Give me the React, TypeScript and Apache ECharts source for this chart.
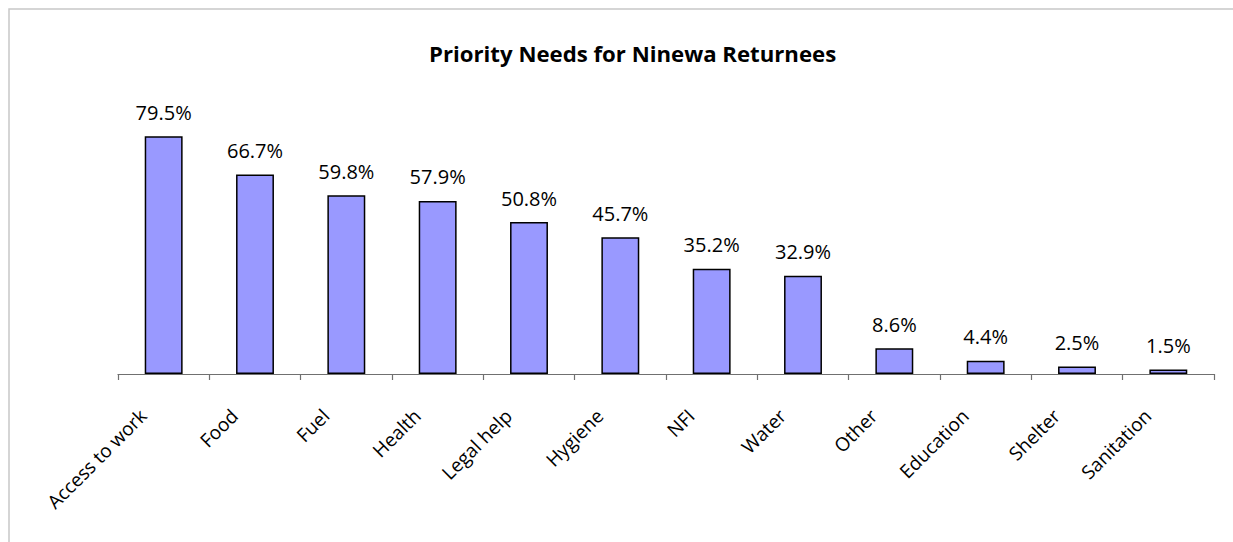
import React, { useEffect, useRef } from "react";
import * as echarts from "echarts";

const categories = ["Access to work", "Food", "Fuel", "Health", "Legal help", "Hygiene", "NFI", "Water", "Other", "Education", "Shelter", "Sanitation"];
const values = [79.5, 66.7, 59.8, 57.9, 50.8, 45.7, 35.2, 32.9, 8.6, 4.4, 2.5, 1.5];
const titleText = "Priority Needs for Ninewa Returnees";

export default function App() {
  const ref = useRef<HTMLDivElement>(null);
  useEffect(() => {
    if (!ref.current) return;
    const chart = echarts.init(ref.current, null, { renderer: "svg" });
    chart.setOption({
      animation: false,
      backgroundColor: "#ffffff",
      title: {
        text: titleText,
        left: 424,
        top: 37,
        textStyle: { fontFamily: "Open Sans", fontWeight: "bold", fontSize: 22.2, color: "#000" },
      },
      graphic: [
        {
          type: "polyline",
          shape: { points: [[9, 560], [9, 9], [1233, 9]] },
          style: { fill: "none", stroke: "#c8c8c8", lineWidth: 1.5 },
          silent: true,
        },
      ],
      grid: { left: 118, right: 19, top: 75, bottom: 168, containLabel: false },
      xAxis: {
        type: "category",
        data: categories,
        axisLine: { show: true, lineStyle: { color: "#707070", width: 1.2 } },
        axisTick: { show: true, length: 6, lineStyle: { color: "#707070", width: 1.2 } },
        axisLabel: {
          rotate: 45,
          interval: 0,
          margin: 18,
          padding: [0, 29, 0, 0],
          fontFamily: "Open Sans",
          fontSize: 19,
          color: "#000",
        },
      },
      yAxis: {
        type: "value",
        min: 0,
        max: 100,
        show: false,
        splitLine: { show: false },
      },
      series: [
        {
          type: "bar",
          data: values,
          barWidth: "41.5%",
          itemStyle: { color: "#9999ff", borderColor: "#000", borderWidth: 1.5 },
          label: {
            show: true,
            position: "top",
            distance: 14,
            formatter: (p: any) => p.value.toFixed(1) + "%",
            fontFamily: "Open Sans",
            fontSize: 20,
            color: "#000",
          },
        },
      ],
    });
    return () => chart.dispose();
  }, []);
  return <div ref={ref} style={{ position: "absolute", left: 0, top: 0, width: 1233, height: 542 }} />;
}
